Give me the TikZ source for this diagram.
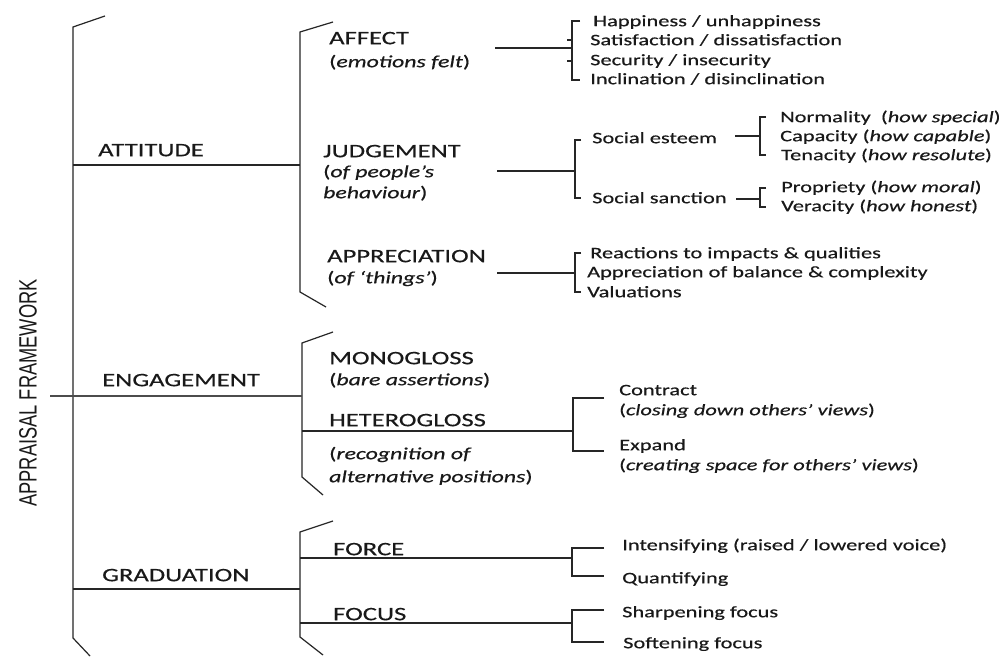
\documentclass[tikz,border=0pt]{standalone}
\usepackage{fontspec}
\setmainfont{Carlito}[FakeStretch=1.4, FakeBold=0.4]
\newfontfamily\condfont{Liberation Sans}[FakeStretch=0.73]
\begin{document}
\begin{tikzpicture}[x=1pt,y=-1pt,
  ln/.style={line width=1.2pt, black!85},
  base/.style={anchor=west, inner xsep=0pt, inner ysep=0pt, yshift=-2pt, text height=0.644em, text depth=0pt, text=black!90},
  hd/.style={base, font=\fontsize{19}{22}\selectfont},
  sub/.style={base, font=\fontsize{17}{20}\selectfont},
  itm/.style={base, font=\fontsize{16}{19}\selectfont}]
\useasboundingbox (0,0) rectangle (1002,660);
\fill[white] (0,0) rectangle (1002,660);

% title
\node[rotate=90, inner sep=0pt, text=black!90, font=\condfont\fontsize{25}{25}\selectfont] (title) at (28,393) {APPRAISAL FRAMEWORK};

% main bracket
\coordinate (m1) at (105,16); \coordinate (m2) at (73,27);
\coordinate (m3) at (73,638); \coordinate (m4) at (90,656);
\draw[ln] (m1) -- (m2) -- (m3) -- (m4);

% level 1 labels
\node[hd] (att) at (98,151) {ATTITUDE};
\node[hd] (eng) at (102,381) {ENGAGEMENT};
\node[hd] (gra) at (102,576) {GRADUATION};

% level-2 brackets
\coordinate (a1) at (333,22); \coordinate (a2) at (300,32); \coordinate (a3) at (300,292); \coordinate (a4) at (326,307);
\draw[ln] (a1) -- (a2) -- (a3) -- (a4);
\coordinate (e1) at (333,332); \coordinate (e2) at (302,343); \coordinate (e3) at (302,477); \coordinate (e4) at (323,495);
\draw[ln] (e1) -- (e2) -- (e3) -- (e4);
\coordinate (g1) at (333,521); \coordinate (g2) at (300,532); \coordinate (g3) at (300,637); \coordinate (g4) at (323,655);
\draw[ln] (g1) -- (g2) -- (g3) -- (g4);

% level-1 connectors
\coordinate (attL) at (73,165); \coordinate (attR) at (300,165);
\draw[ln] (attL) -- (attR);
\coordinate (engL) at (50,396); \coordinate (engR) at (302,396);
\draw[ln, black!70] (engL) -- (engR);
\coordinate (graL) at (73,589); \coordinate (graR) at (300,589);
\draw[ln] (graL) -- (graR);

% ATTITUDE subsystems
\node[hd] (aff) at (329,39) {AFFECT};
\node[sub] (aff2) at (329,62) {(\textit{emotions felt})};
\node[hd] (jud) at (323,152) {JUDGEMENT};
\node[sub] (jud2) at (323,172) {(\textit{of people's}};
\node[sub] (jud3) at (323,193) {\textit{behaviour})};
\node[hd] (app) at (327,257) {APPRECIATION};
\node[sub] (app2) at (327,278) {(\textit{of `things'})};

% affect
\coordinate (afL) at (495,48); \coordinate (afR) at (572,48);
\draw[ln] (afL) -- (afR);
\draw[ln] (580,21) -- (572,21) -- (572,80) -- (580,80);
\draw[ln] (567,40) -- (572,40);
\draw[ln] (567,61) -- (572,61);
\node[itm] (af1) at (593,21) {Happiness / unhappiness};
\node[itm] (af2) at (590,40) {Satisfaction / dissatisfaction};
\node[itm] (af3) at (590,60) {Security / insecurity};
\node[itm] (af4) at (590,79) {Inclination / disinclination};

% judgement
\coordinate (juL) at (497,171); \coordinate (juR) at (575,171);
\draw[ln] (juL) -- (juR);
\draw[ln] (581,140) -- (575,140) -- (575,198) -- (581,198);
\node[itm] (se) at (592,138) {Social esteem};
\node[itm] (ss) at (592,198) {Social sanction};
\coordinate (seL) at (735,136); \coordinate (seR) at (760,136);
\draw[ln] (seL) -- (seR);
\draw[ln] (766,117) -- (760,117) -- (760,155) -- (766,155);
\coordinate (ssL) at (736,199); \coordinate (ssR) at (760,199);
\draw[ln] (ssL) -- (ssR);
\draw[ln] (766,188) -- (760,188) -- (760,207) -- (766,207);
\node[itm] (n1) at (780,117) {Normality\ \ (\textit{how special})};
\node[itm] (n2) at (780,136) {Capacity (\textit{how capable})};
\node[itm] (n3) at (781,155) {Tenacity (\textit{how resolute})};
\node[itm] (n4) at (781,187) {Propriety (\textit{how moral})};
\node[itm] (n5) at (781,206) {Veracity (\textit{how honest})};

% appreciation
\coordinate (apL) at (497,273); \coordinate (apR) at (575,273);
\draw[ln] (apL) -- (apR);
\draw[ln] (581,253) -- (575,253) -- (575,292) -- (581,292);
\node[itm] (ap1) at (590,253) {Reactions to impacts \& qualities};
\node[itm] (ap2) at (587,272) {Appreciation of balance \& complexity};
\node[itm] (ap3) at (587,292) {Valuations};

% ENGAGEMENT
\node[hd] (mono) at (329,359) {MONOGLOSS};
\node[sub] (mono2) at (329,380) {(\textit{bare assertions})};
\node[hd] (het) at (329,421) {HETEROGLOSS};
\node[sub] (het2) at (329,454) {(\textit{recognition of}};
\node[sub] (het3) at (329,477) {\textit{alternative positions})};
\coordinate (heL) at (302,431); \coordinate (heR) at (573,431);
\draw[ln] (heL) -- (heR);
\draw[ln] (604,398) -- (573,398) -- (573,451) -- (604,451);
\node[itm] (c1) at (619,390) {Contract};
\node[itm] (c2) at (619,410) {(\textit{closing down others' views})};
\node[itm] (c3) at (619,445) {Expand};
\node[itm] (c4) at (619,465) {(\textit{creating space for others' views})};

% GRADUATION
\node[hd] (frc) at (333,550) {FORCE};
\node[hd] (foc) at (333,615) {FOCUS};
\coordinate (frL) at (300,558); \coordinate (frR) at (572,558);
\draw[ln] (frL) -- (frR);
\draw[ln] (604,548) -- (572,548) -- (572,576) -- (604,576);
\coordinate (fcL) at (300,623); \coordinate (fcR) at (572,623);
\draw[ln] (fcL) -- (fcR);
\draw[ln] (604,610) -- (572,610) -- (572,642) -- (604,642);
\node[itm] (f1) at (622,545) {Intensifying (raised / lowered voice)};
\node[itm] (f2) at (622,578) {Quantifying};
\node[itm] (f3) at (622,612) {Sharpening focus};
\node[itm] (f4) at (623,643) {Softening focus};
\end{tikzpicture}
\end{document}
